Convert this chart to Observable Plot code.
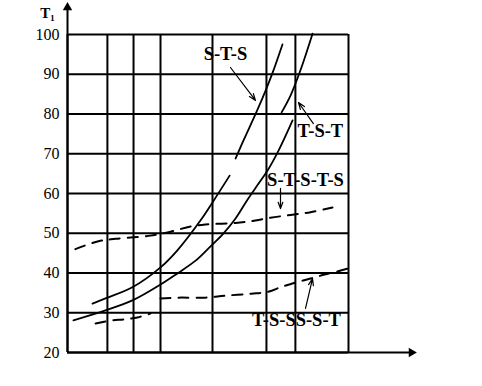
<!DOCTYPE html>
<html>
<head>
<meta charset="utf-8">
<script src="https://cdn.jsdelivr.net/npm/d3@7"></script>
<script src="https://cdn.jsdelivr.net/npm/@observablehq/plot@0.6"></script>
<style>
  html, body { margin: 0; padding: 0; background: #fff; }
  #chart svg { display: block; }
</style>
</head>
<body>
<div id="chart"></div>
<script>
// ---- data (x in arbitrary units, 0..100 across the grid) ----
const yTicks = [20, 30, 40, 50, 60, 70, 80, 90, 100];
const xGrid = [0, 14.2, 23.5, 33.1, 51.6, 70.8, 81.1, 100];

// S-T-S (solid, two pieces)
const stsA_x = [8.9, 13.5, 23.1, 33.1, 39.1, 47.3, 52.0, 57.7];
const stsA_y = [32.3, 33.6, 36.4, 41.4, 45.7, 53.2, 58.2, 64.5];
const stsB_x = [59.8, 62.6, 67.3, 70.5, 73.0, 76.5];
const stsB_y = [68.8, 73.3, 80.6, 85.9, 90.4, 97.5];

// T-S-T (solid, two pieces)
const tstA_x = [2.1, 13.5, 23.1, 33.1, 39.1, 45.6, 50.9, 55.2, 59.8, 64.1, 68.0, 71.2, 75.1, 80.1];
const tstA_y = [28.1, 30.6, 33.1, 37.1, 39.9, 43.1, 46.7, 49.7, 53.7, 58.5, 62.5, 65.8, 70.8, 78.4];
const tstB_x = [76.2, 79.4, 82.9, 87.2];
const tstB_y = [80.4, 84.7, 91.0, 100.2];

// S-T-S-T-S (dashed)
const ststs_x = [2.8, 11.0, 17.1, 29.5, 36.7, 43.8, 49.1, 59.8, 66.9, 72.2, 79.4, 86.5, 94.3];
const ststs_y = [46.0, 48.0, 48.6, 49.4, 50.4, 51.7, 52.2, 52.6, 53.2, 53.9, 54.6, 55.3, 56.5];

// T-S-S (dashed) and S-S-T (dashed)
const tss_x = [10.0, 16.0, 19.9, 24.9, 29.5];
const tss_y = [27.3, 28.1, 28.3, 28.8, 29.8];
const sst_x = [33.1, 39.5, 49.1, 56.2, 65.5, 71.5, 75.8, 81.1, 86.5, 91.5, 96.1, 99.6];
const sst_y = [33.6, 33.8, 33.8, 34.3, 34.8, 35.3, 36.4, 37.6, 38.6, 39.6, 40.4, 41.1];

// labels and their pointer arrows
const labelText = ["S-T-S", "T-S-T", "S-T-S-T-S", "T-S-SS-S-T"];
const labelX = [56.2, 90.0, 84.7, 81.5];
const labelY = [95.2, 75.8, 63.3, 28.1];
const arrowX1 = [58.0, 87.5, 75.8, 84.7];
const arrowY1 = [91.7, 77.6, 61.3, 31.1];
const arrowX2 = [66.9, 82.2, 75.8, 87.2];
const arrowY2 = [83.4, 82.9, 56.2, 38.6];

// axis extents (arrow tips)
const yAxisTop = 106.8;
const xAxisEnd = 122.4;
const yAxisTitle = "T₁";

// ---- build tables ----
const pts = (xs, ys, id) => xs.map((x, i) => ({x, y: ys[i], id}));
const solid = [
  ...pts(stsA_x, stsA_y, "stsA"), ...pts(stsB_x, stsB_y, "stsB"),
  ...pts(tstA_x, tstA_y, "tstA"), ...pts(tstB_x, tstB_y, "tstB")
];
const dashed = [
  ...pts(ststs_x, ststs_y, "ststs"),
  ...pts(tss_x, tss_y, "tss"), ...pts(sst_x, sst_y, "sst")
];
const labels = labelText.map((t, i) => ({t, x: labelX[i], y: labelY[i]}));
const arrows = arrowX1.map((x1, i) => ({x1, y1: arrowY1[i], x2: arrowX2[i], y2: arrowY2[i]}));
const tips = [{x: 0, y: yAxisTop, rot: 0}, {x: xAxisEnd, y: 20, rot: 90}];

const chart = Plot.plot({
  width: 482,
  height: 386,
  marginTop: 0, marginRight: 0, marginBottom: 0, marginLeft: 0,
  x: {domain: [0, 100], range: [67, 348], axis: null},
  y: {domain: [20, 100], range: [352, 34], axis: null},
  style: {fontFamily: "'Liberation Serif', 'Times New Roman', serif", background: "white", color: "black"},
  marks: [
    Plot.ruleY(yTicks, {y: d => d, x1: () => 0, x2: () => 100, stroke: "black", strokeWidth: 2}),
    Plot.ruleX(xGrid, {x: d => d, y1: () => 20, y2: () => 100, stroke: "black", strokeWidth: 2}),
    Plot.ruleX([0], {x: d => d, y1: () => 20, y2: () => yAxisTop, stroke: "black", strokeWidth: 2}),
    Plot.ruleY([20], {y: d => d, x1: () => 0, x2: () => xAxisEnd, stroke: "black", strokeWidth: 2}),
    Plot.dot(tips, {x: "x", y: "y", rotate: "rot", symbol: "triangle2", r: 4.5, fill: "black", stroke: "none"}),
    Plot.text(yTicks, {x: () => 0, y: d => d, text: d => String(d), dx: -8, textAnchor: "end", fontSize: 16, fill: "black"}),
    Plot.text([yAxisTitle], {x: () => -7.1, y: () => 105.3, text: d => d, fontSize: 15, fontWeight: "bold", fill: "black"}),
    Plot.line(solid, {x: "x", y: "y", z: "id", curve: "catmull-rom", stroke: "black", strokeWidth: 1.8}),
    Plot.line(dashed, {x: "x", y: "y", z: "id", curve: "catmull-rom", stroke: "black", strokeWidth: 2, strokeDasharray: "10,8"}),
    Plot.arrow(arrows, {x1: "x1", y1: "y1", x2: "x2", y2: "y2", stroke: "black", strokeWidth: 1.2, headLength: 9, headAngle: 40}),
    Plot.text(labels, {x: "x", y: "y", text: "t", fontSize: 18.5, fontWeight: "bold", fill: "black"})
  ]
});
document.getElementById("chart").append(chart);
</script>
</body>
</html>
